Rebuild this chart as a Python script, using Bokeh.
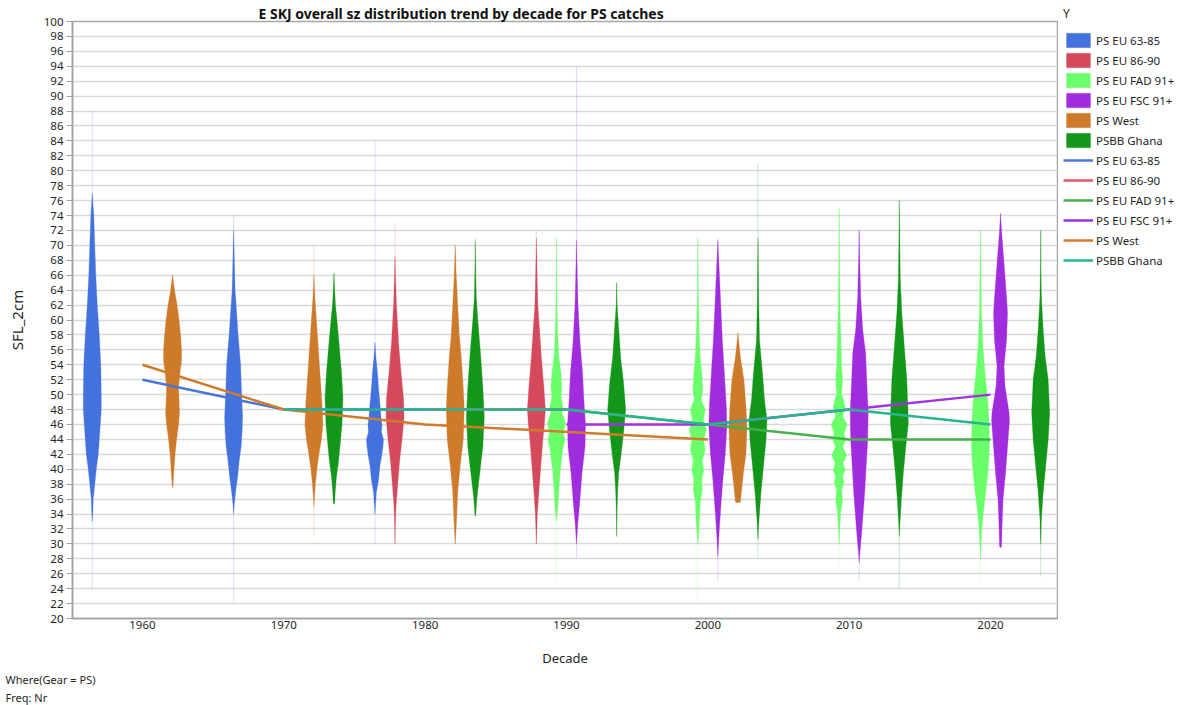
from bokeh.plotting import figure
from bokeh.layouts import row
from bokeh.models import Legend, LegendItem, Title, Range1d, FixedTicker
from bokeh.embed import file_html
from bokeh.resources import INLINE

# ---------------- data ----------------
groups = ["PS EU 63-85", "PS EU 86-90", "PS EU FAD 91+", "PS EU FSC 91+", "PS West", "PSBB Ghana"]
violin_colors = ["#4472dc", "#d44a5c", "#6bff6b", "#a02ddd", "#cd7a2b", "#139619"]
line_colors = ["#4a74d8", "#e0566a", "#44b04c", "#a033e0", "#d07b2c", "#2ab38f"]

decade_ticks = [1960, 1970, 1980, 1990, 2000, 2010, 2020]
y_ticks = list(range(20, 101, 2))

# violins: decade, group index, size levels (cm) and relative density at each level
v_decade = [1960, 1960, 1970, 1970, 1970, 1980, 1980, 1980, 1980,
            1990, 1990, 1990, 1990, 2000, 2000, 2000, 2000,
            2010, 2010, 2010, 2020, 2020, 2020]
v_group = [0, 4, 0, 4, 5, 0, 1, 4, 5,
           1, 2, 3, 5, 2, 3, 4, 5,
           2, 3, 5, 2, 3, 5]
v_levels = [
    [33, 34, 36, 38, 40, 42, 44, 46, 48, 50, 54, 58, 62, 66, 70, 74, 77],
    [37.5, 38, 40, 42, 44, 46, 47.5, 49, 51, 53, 54.5, 56, 58, 60, 62, 64, 66],
    [34, 35, 37, 39, 41, 43, 45, 47, 50, 54, 58, 62, 64, 68, 72],
    [35, 36, 38, 40, 42, 44, 46, 49, 52, 56, 60, 63, 66],
    [35.3, 35.5, 37, 39, 41, 43, 46, 49.5, 53, 57, 60, 62, 64, 66.3],
    [34, 35, 37, 38.5, 40.5, 42, 43, 44, 45, 46, 47, 48, 49.5, 51, 53, 55, 57],
    [30, 32, 35, 38.5, 41, 44, 47, 49.5, 53, 57, 62, 65, 68.5],
    [30, 33, 37, 40.5, 44, 48, 51, 55, 58, 62, 66, 70],
    [33.7, 34, 36, 39.5, 43, 47, 51, 55, 60, 63, 66, 70.5],
    [30, 31, 34, 37, 40.5, 44, 46, 48, 51, 55, 60, 62, 66, 71],
    [33, 35, 37.3, 39.5, 40.5, 41.7, 42.8, 43.9, 44.9, 46.2, 47.6, 48.4, 49.7, 51, 52.9, 55, 57.3, 62, 71],
    [30, 33, 36, 39.5, 43, 46, 49, 53, 57, 62, 66, 70.7],
    [31, 35, 37, 39.5, 42, 45, 48, 51.5, 55, 60, 62, 65],
    [30, 30.6, 32.8, 35.5, 37.3, 38.6, 39.9, 41.2, 42.6, 43.9, 45.3, 46.6, 48, 49.3, 50.6, 52.9, 55, 58, 63, 71],
    [28.3, 31.5, 35, 38.6, 42.2, 45.7, 48.4, 52.9, 57.3, 61.7, 66.3, 70.7],
    [35.5, 35.6, 37, 39.5, 42, 45.5, 48.5, 52, 55, 57, 58.3],
    [30.6, 33.2, 36.9, 40.4, 43.9, 46.6, 49.3, 52.9, 57.3, 62, 67, 71],
    [30, 31.5, 34.1, 35.9, 37.3, 38.2, 39.0, 39.9, 40.8, 41.9, 43.0, 43.9, 44.8, 46.0, 47.1, 48.4, 50.2, 52.0, 53.8, 56.4, 60.9, 66, 75],
    [27.5, 28.9, 31.5, 34.2, 36.9, 40.4, 43.9, 47.6, 52.0, 55.5, 58.7, 63.1, 68.5, 72],
    [31, 32.3, 35.9, 39.5, 43, 46.2, 48.4, 52, 56.4, 60.9, 65.3, 70, 76],
    [28, 29.6, 32.3, 35, 37.7, 40.4, 43, 46.6, 49.7, 52.9, 56.4, 60.9, 66, 72],
    [29.5, 29.6, 32.3, 35.9, 39.5, 43, 46.6, 47.6, 51.1, 53.8, 57.3, 60.9, 63.1, 67.6, 72, 74.3],
    [30, 30.7, 33.4, 36.9, 40.4, 43.9, 47.6, 52, 55.1, 58.7, 63.1, 67, 72],
]
v_density = [
    [0, 1, 2, 5, 8, 12, 14, 16, 18, 18, 17, 14, 10, 7, 5, 3, 0],
    [0, 1, 3, 5, 8, 12, 14, 13, 12, 15, 18, 18, 16, 13, 9, 4, 0],
    [0, 1, 4, 8, 11, 15, 17, 18, 16, 14, 9, 5, 3, 1.5, 0],
    [0, 1, 3, 6, 10, 15, 18, 16, 13, 9, 5, 2, 0],
    [0, 1.5, 2.5, 5, 9, 12, 16, 18, 15, 10, 6, 3, 1.5, 0],
    [0, 1, 3, 7, 10, 14, 16, 17, 13, 14, 12, 11, 9, 7, 5, 2, 0],
    [0, 0.5, 2, 6, 9, 14, 18, 17, 12, 7, 3, 1.5, 0],
    [0, 2.5, 5, 10, 16, 18, 16, 12, 8, 5, 2, 0],
    [0, 1, 3, 9, 15, 18, 15, 11, 5, 2, 1, 0],
    [0, 0.5, 2, 5, 9, 13, 16, 18, 15, 10, 5, 3, 1.5, 0],
    [0, 3, 5, 7, 9, 11, 13, 17, 14, 18, 11, 13, 9, 11, 9, 5, 3, 1, 0],
    [0, 3, 7, 11, 17, 18, 15, 12, 7, 3, 1.5, 0],
    [0, 1, 2, 4, 9, 14, 18, 14, 8, 3, 1, 0],
    [0, 1, 3, 5, 9, 8, 12, 9, 15, 12, 17, 11, 15, 7, 10, 8, 5, 3, 1, 0],
    [0, 2.5, 6, 10, 15, 18, 17, 13, 9, 6, 3, 0],
    [0, 5, 7, 11, 16, 18, 16, 12, 5, 2, 0],
    [0, 2, 6, 11, 16, 18, 13, 9, 3, 1.5, 0.8, 0],
    [0, 1, 3, 7, 5, 10, 7, 12, 8, 15, 7, 13, 10, 16, 7, 12, 5, 7, 5, 4, 2, 1, 0],
    [0, 1.5, 5, 8, 11, 14, 17, 18, 15, 13, 7, 3, 1, 0],
    [0, 1, 4, 8, 13, 18, 17, 15, 10, 5, 2, 1, 0],
    [0, 1, 3, 7, 12, 16, 18, 17, 14, 9, 5, 2, 1, 0],
    [0, 2, 3, 5, 10, 14, 18, 17, 9, 7, 12, 14, 12, 7, 2, 0],
    [0, 0.5, 1.5, 5, 10, 15, 18, 15, 9, 5, 1.5, 0.5, 0],
]
v_tail_lo = [24, 37.5, 22, 31, 35.3, 30, 30, 30, 33.7, 30, 25, 28, 31, 22, 25, 35.5, 28, 27, 25, 24, 25, 29.6, 25.6]
v_tail_hi = [88, 66, 74, 70, 66.3, 84, 73, 70, 71, 72, 71, 94, 65, 71, 71, 58.3, 81, 75, 72, 76, 72, 74.3, 72]

# trend lines (mean size by decade)
trend_x = [
    [1960, 1970, 1980],
    [1980, 1990],
    [1990, 2000, 2010, 2020],
    [1990, 2000, 2010, 2020],
    [1960, 1970, 1980, 2000],
    [1970, 1980, 1990, 2000, 2010, 2020],
]
trend_y = [
    [52, 48, 48],
    [48, 48],
    [48, 46, 44, 44],
    [46, 46, 48, 50],
    [54, 48, 46, 44],
    [48, 48, 48, 46, 48, 46],
]

title_text = "E SKJ overall sz distribution trend by decade for  PS catches"
note_lines = ["Where(Gear = PS)", "Freq: Nr"]

# ---------------- main figure ----------------
FONT = "Noto Sans"
TXT = "#262626"

p = figure(width=1058, height=705, x_range=Range1d(1955.05, 2024.74), y_range=Range1d(20, 100),
           output_backend="svg", toolbar_location=None,
           min_border_left=72, min_border_right=1, min_border_top=21, min_border_bottom=86)
p.outline_line_color = "#a6a6a6"
p.outline_line_width = 1.5
p.background_fill_color = "white"
p.border_fill_color = "white"

p.title = Title(text=title_text, align="left", offset=186, standoff=-3,
                text_font=FONT, text_font_style="bold", text_font_size="14px", text_color="#111111")

p.xgrid.visible = False
p.ygrid.ticker = FixedTicker(ticks=y_ticks)
p.ygrid.grid_line_color = "#d9d9d9"
p.ygrid.grid_line_width = 1.5

p.yaxis.ticker = FixedTicker(ticks=y_ticks)
p.xaxis.ticker = FixedTicker(ticks=decade_ticks)
for ax in (p.xaxis[0], p.yaxis[0]):
    ax.axis_line_color = "#a0a0a0"
    ax.axis_line_width = 1.5
    ax.major_tick_line_color = "#a0a0a0"
    ax.minor_tick_line_color = None
    ax.major_label_text_font = FONT
    ax.major_label_text_font_size = "11.5px"
    ax.major_label_text_color = TXT
    ax.axis_label_text_font = FONT
    ax.axis_label_text_font_style = "normal"
    ax.axis_label_text_color = TXT
p.yaxis.major_tick_out = 6
p.yaxis.major_tick_in = 0
p.yaxis.major_label_standoff = 3
p.yaxis.axis_label = "SFL_2cm"
p.yaxis.axis_label_text_font_size = "15px"
p.yaxis.axis_label_standoff = 14
p.xaxis.major_tick_out = 0
p.xaxis.major_tick_in = 0
p.xaxis.major_label_standoff = 2
p.xaxis.axis_label = "Decade"
p.xaxis.axis_label_text_font_size = "13px"
p.xaxis.axis_label_standoff = 17

STEP = 1.42          # dodge spacing between groups (years)
K = 0.0354           # half-width per density unit (years)

for g in range(len(groups)):
    xs, ys, tx, tlo, thi = [], [], [], [], []
    for i in range(len(v_decade)):
        if v_group[i] != g:
            continue
        c = v_decade[i] + (g - 2.5) * STEP
        lv, dn = v_levels[i], v_density[i]
        left = [c - d * K for d in dn]
        right = [c + d * K for d in reversed(dn)]
        xs.append(left + right)
        ys.append(list(lv) + list(reversed(lv)))
        tx.append(c)
        tlo.append(v_tail_lo[i])
        thi.append(v_tail_hi[i])
    p.segment(x0=tx, y0=tlo, x1=tx, y1=thi, line_color=violin_colors[g], line_alpha=0.18, line_width=1.2)
    p.patches(xs, ys, fill_color=violin_colors[g], fill_alpha=1.0, line_color=violin_colors[g],
              line_alpha=0.6, line_width=0.5)

for g in range(len(groups)):
    p.line(trend_x[g], trend_y[g], line_color=line_colors[g], line_width=2.5)

for k, t in enumerate(note_lines):
    p.add_layout(Title(text=t, align="left", offset=-67, standoff=2 * k,
                       text_font=FONT, text_font_style="normal", text_font_size="11px",
                       text_color=TXT), "below")

# ---------------- legend panel ----------------
lg = figure(width=122, height=705, x_range=Range1d(0, 1), y_range=Range1d(0, 1), title=None,
            output_backend="svg", toolbar_location=None, x_axis_type=None, y_axis_type=None,
            min_border=0, min_border_top=0, min_border_left=0, min_border_right=0, min_border_bottom=0,
            outline_line_color=None)
lg.grid.visible = False
for fig in (p, lg):
    if "frame_align" in fig.properties():
        fig.frame_align = False
# legend-only renderers, placed outside the visible range of this panel
swatch_r = [lg.patches(xs=[[5, 6, 6]], ys=[[5, 5, 6]], fill_color=violin_colors[g], line_color=violin_colors[g],
                       line_alpha=0.6, line_width=0.5) for g in range(len(groups))]
line_r = [lg.line(x=[5, 6], y=[5, 5], line_color=line_colors[g], line_width=2.5) for g in range(len(groups))]
items = [LegendItem(label=groups[g], renderers=[swatch_r[g]]) for g in range(len(groups))]
items += [LegendItem(label=groups[g], renderers=[line_r[g]]) for g in range(len(groups))]
legend = Legend(items=items, location="top_left", title="Y",
                title_text_font=FONT, title_text_font_style="normal", title_text_font_size="12px",
                title_text_color=TXT, title_standoff=8,
                label_text_font=FONT, label_text_font_size="11.5px", label_text_color=TXT,
                glyph_width=30, glyph_height=18, label_standoff=3, label_height=20,
                spacing=0, padding=0, margin=5,
                border_line_alpha=0, background_fill_alpha=0)
lg.add_layout(legend)

open("out.html", "w").write(file_html(row(p, lg), INLINE))
